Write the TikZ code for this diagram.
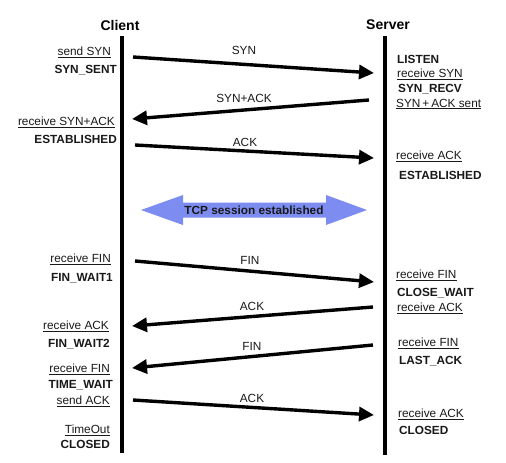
\documentclass[tikz,border=0pt]{standalone}
\usepackage{fontspec}
\setmainfont{Liberation Sans}
\usetikzlibrary{arrows.meta}
\definecolor{txt}{RGB}{25,25,25}
\definecolor{sess}{RGB}{125,140,240}
\tikzset{
  lbl/.style={inner sep=0pt, text=txt, font=\fontsize{11.8}{13}\selectfont},
  st/.style={inner sep=0pt, text=txt, font=\fontsize{11.8}{13}\selectfont\bfseries},
  head/.style={inner sep=0pt, text=black, font=\fontsize{14}{16}\selectfont\bfseries},
  life/.style={line width=3.8pt, black},
  msg/.style={line width=3.4pt, black, -{Triangle[length=15pt,width=14pt]}, shorten >=0pt},
  mlbl/.style={inner sep=0pt, text=txt, font=\fontsize{11.8}{13}\selectfont},
}
\newcommand{\ul}[1]{\underline{#1}}
\begin{document}
\begin{tikzpicture}[x=1pt,y=-1pt]
\useasboundingbox (0,0) rectangle (506,463);
\fill[white] (0,0) rectangle (506,463);
% headers
\node[head] (client) at (120,25) {Client};
\node[head] (server) at (388,25) {Server};
% lifelines
\coordinate (ct) at (122,36); \coordinate (cb) at (122,453);
\coordinate (st) at (385,36); \coordinate (sb) at (385,455);
\draw[life] (ct) -- (cb);
\draw[life] (st) -- (sb);
% message endpoints
\coordinate (a1) at (133,57);  \coordinate (b1) at (374,73);
\coordinate (a2) at (369,100); \coordinate (b2) at (132,119);
\coordinate (a3) at (135,145); \coordinate (b3) at (374,158);
\coordinate (a5) at (135,261); \coordinate (b5) at (374,282);
\coordinate (a6) at (373,307); \coordinate (b6) at (132,326);
\coordinate (a7) at (373,345); \coordinate (b7) at (132,368);
\coordinate (a8) at (133,400); \coordinate (b8) at (374,415);
\draw[msg] (a1) -- (b1);
\draw[msg] (a2) -- (b2);
\draw[msg] (a3) -- (b3);
\draw[msg] (a5) -- (b5);
\draw[msg] (a6) -- (b6);
\draw[msg] (a7) -- (b7);
\draw[msg] (a8) -- (b8);
% message labels
\node[mlbl] (m1) at (244,50) {SYN};
\node[mlbl] (m2) at (244,98) {SYN+ACK};
\node[mlbl] (m3) at (245,142) {ACK};
\node[mlbl] (m5) at (250,260) {FIN};
\node[mlbl] (m6) at (252,306) {ACK};
\node[mlbl] (m7) at (252,346) {FIN};
\node[mlbl] (m8) at (252,398) {ACK};
% session double arrow
\fill[sess] (141,210) -- (183,195) -- (183,202.5) -- (326,202.5) -- (326,195)
  -- (367,210) -- (326,225) -- (326,217.5) -- (183,217.5) -- (183,225) -- cycle;
\node[st] (sesstxt) at (254,210) {TCP session established};
% client labels
\node[lbl, anchor=east] (c1) at (111,52) {\ul{send SYN}};
\node[st, anchor=east] (c2) at (117,70) {SYN\_SENT};
\node[lbl, anchor=east] (c3) at (115,122) {\ul{receive SYN+ACK}};
\node[st, anchor=east] (c4) at (117,139) {ESTABLISHED};
\node[lbl, anchor=east] (c5) at (111,259) {\ul{receive FIN}};
\node[st, anchor=east] (c6) at (113,278) {FIN\_WAIT1};
\node[lbl, anchor=east] (c7) at (109,326) {\ul{receive ACK}};
\node[st, anchor=east] (c8) at (110,344) {FIN\_WAIT2};
\node[lbl, anchor=east] (c9) at (110,369) {\ul{receive FIN}};
\node[st, anchor=east] (c10) at (113,385) {TIME\_WAIT};
\node[lbl, anchor=east] (c11) at (110,401) {\ul{send ACK}};
\node[lbl, anchor=east] (c12) at (110,430) {\ul{TimeOut}};
\node[st, anchor=east] (c13) at (110,444) {CLOSED};
% server labels
\node[st, anchor=west] (s1) at (397,59) {LISTEN};
\node[lbl, anchor=west] (s2) at (397,74) {\ul{receive SYN}};
\node[st, anchor=west] (s3) at (398,89) {SYN\_RECV};
\node[lbl, anchor=west] (s4) at (396,104) {\ul{SYN\,+\,ACK sent}};
\node[lbl, anchor=west] (s5) at (396,156) {\ul{receive ACK}};
\node[st, anchor=west] (s6) at (399,175) {ESTABLISHED};
\node[lbl, anchor=west] (s7) at (396,275) {\ul{receive FIN}};
\node[st, anchor=west] (s8) at (397,293) {CLOSE\_WAIT};
\node[lbl, anchor=west] (s9) at (397,308) {\ul{receive ACK}};
\node[lbl, anchor=west] (s10) at (398,343) {\ul{receive FIN}};
\node[st, anchor=west] (s11) at (399,361) {LAST\_ACK};
\node[lbl, anchor=west] (s12) at (398,414) {\ul{receive ACK}};
\node[st, anchor=west] (s13) at (399,430) {CLOSED};
\end{tikzpicture}
\end{document}
